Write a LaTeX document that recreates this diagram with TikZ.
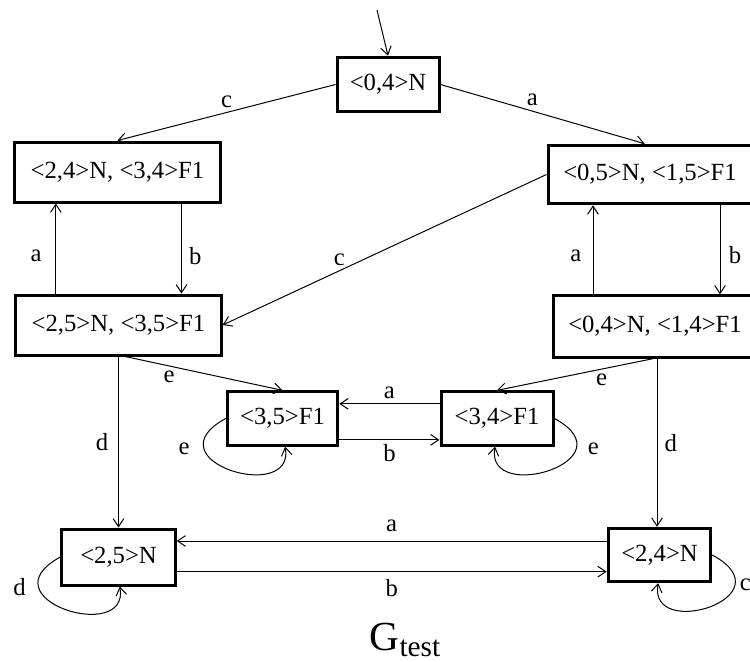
\documentclass[tikz,border=0pt]{standalone}
\usepackage{fontspec}
\setmainfont{Liberation Serif}
\usetikzlibrary{arrows.meta, positioning, calc}

\begin{document}
\begin{tikzpicture}[
        x=0.75pt, y=-0.75pt,
        every node/.style={font=\fontsize{18.5}{22}\selectfont},
        state/.style={draw, rectangle, line width=2.25pt, inner sep=0pt, text centered},
        line/.style={draw, line width=0.75pt, -{Straight Barb[length=6pt,width=8pt]}}
    ]
        \useasboundingbox (0,0) rectangle (750,661);

        % States
        \node[state, minimum width=76.5pt, minimum height=41pt] (A) at (388,84.5) {<0,4>N};
        \node[state, minimum width=154pt, minimum height=45pt] (B) at (117.5,172) {<2,4>N, <3,4>F1};
        \node[state, minimum width=153pt, minimum height=44pt] (C) at (650,174.5) {<0,5>N, <1,5>F1};
        \node[state, minimum width=153pt, minimum height=46pt] (D) at (655,326.5) {<0,4>N, <1,4>F1};
        \node[state, minimum width=154pt, minimum height=45pt] (E) at (118.5,325) {<2,5>N, <3,5>F1};
        \node[state, minimum width=83pt, minimum height=40pt] (F) at (282.5,418.5) {<3,5>F1};
        \node[state, minimum width=84pt, minimum height=40pt] (G) at (497,418.5) {<3,4>F1};
        \node[state, minimum width=85pt, minimum height=42pt] (H) at (118.5,557) {<2,5>N};
        \node[state, minimum width=77pt, minimum height=40pt] (I) at (659.5,555) {<2,4>N};
        \coordinate (start) at (377,10);

        % Title
        \node[anchor=base west, font=\fontsize{31}{31}\selectfont] (title) at (365,650) {G\raisebox{-5pt}{\fontsize{22}{22}\selectfont test}};

        % Transitions
        \draw[line] (start) -- (A.north);
        \draw[line] (A.west) -- node[above] {c} (B.north);
        \draw[line] (A.east) -- node[pos=0.45, above] {a} ([xshift=-4pt]C.north);
        \draw[line] ([xshift=-47pt]E.north) -- node[pos=0.42, left=7pt] {a} ([xshift=-47pt]E.north |- B.south);
        \draw[line] ([xshift=48pt]B.south) -- node[pos=0.58, right=2pt] {b} ([xshift=48pt]B.south |- E.north);
        \draw[line] (C.west) -- node[pos=0.64, above] {c} (E.east);
        \draw[line] ([xshift=52.5pt]C.south) -- node[pos=0.56, right=3pt] {b} ([xshift=52.5pt]C.south |- D.north);
        \draw[line] ([xshift=-46.5pt]D.north) -- node[pos=0.43, left=5pt] {a} ([xshift=-46.5pt]D.north |- C.south);
        \draw[line] ([xshift=5pt]E.south) -- node[pos=0.28, below] {e} (F.north);
        \draw[line] ([xshift=-1.5pt]D.south) -- node[pos=0.33, below] {e} (G.north);
        \draw[line] ([yshift=11pt]G.west) -- node[above] {a} ([yshift=11pt]F.east);
        \draw[line] ([yshift=-16pt]F.east) -- node[below] {b} ([yshift=-16pt]G.west);
        \draw[line] (E.south) -- node[left=4pt] {d} (H.north);
        \draw[line] ([xshift=1.5pt]D.south) -- node[right=2pt] {d} ([xshift=1.5pt]D.south |- I.north);
        \draw[line] ([yshift=10.5pt]I.west) -- node[above=3pt] {a} ([yshift=10.5pt]I.west -| H.east);
        \draw[line] ([yshift=-11pt]H.east) -- node[below=2pt] {b} ([yshift=-11pt]H.east -| I.west);

        % Self loops
        \draw[line] (F.west) .. controls +(-77,42) and +(10,58) .. ([xshift=2pt]F.south) node[pos=0.25, left=7pt] {e};
        \draw[line] (G.east) .. controls +(77,42) and +(-10,58) .. ([xshift=-1.5pt]G.south) node[pos=0.25, right=5pt] {e};
        \draw[line] (H.west) .. controls +(-77,42) and +(10,58) .. ([xshift=1pt]H.south) node[pos=0.25, left=6pt] {d};
        \draw[line] (I.east) .. controls +(77,42) and +(-10,58) .. ([xshift=-1pt]I.south) node[pos=0.25, right] {c};
    \end{tikzpicture}
\end{document}
